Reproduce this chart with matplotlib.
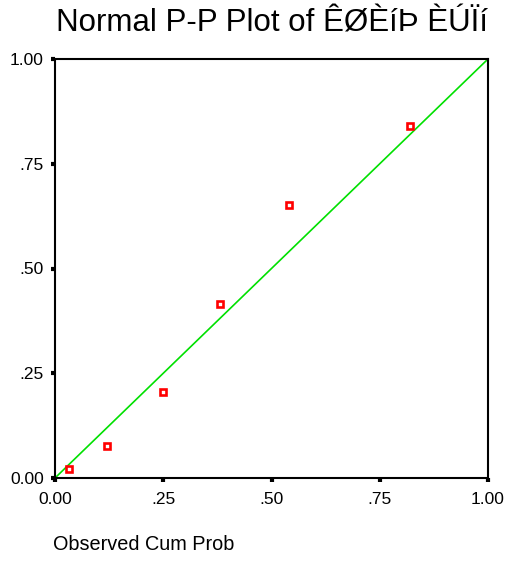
import matplotlib
matplotlib.use('Agg')
import matplotlib.pyplot as plt

plt.rcParams['font.family'] = ['Liberation Sans', 'DejaVu Sans']

# observed vs expected cumulative probabilities
observed = [0.033, 0.121, 0.250, 0.382, 0.541, 0.821]
expected = [0.021, 0.076, 0.205, 0.415, 0.652, 0.840]
ticks = [0.0, 0.25, 0.5, 0.75, 1.0]
tick_labels = ['0.00', '.25', '.50', '.75', '1.00']

fig = plt.figure(figsize=(5.08, 5.65), dpi=100)
ax = fig.add_axes([55/508, 1 - 478/565, 433/508, 419/565])

ax.plot([0, 1], [0, 1], color='#00e000', lw=1.2, zorder=2)
ax.plot(observed, expected, 's', ms=4, mfc='white', mec='#ff0000', mew=1.9, zorder=3)

ax.set_xlim(0, 1)
ax.set_ylim(0, 1)
ax.set_xticks(ticks)
ax.set_xticklabels(tick_labels)
ax.set_yticks(ticks)
ax.set_yticklabels(tick_labels)
ax.tick_params(length=3, width=3, direction='out', labelsize=12.5, pad=5, color='black')
ax.tick_params(axis='x', pad=7)
for s in ax.spines.values():
    s.set_linewidth(1.5)
    s.set_color('black')

fig.text(272/508, 1 - 23/565, 'Normal P-P Plot of ÊØÈíÞ ÈÚÏí', ha='center', va='center', fontsize=22.5)
fig.text(53/508, 1 - 545/565, 'Observed Cum Prob', ha='left', va='center', fontsize=14.3)

fig.savefig('out.png', dpi=100)
